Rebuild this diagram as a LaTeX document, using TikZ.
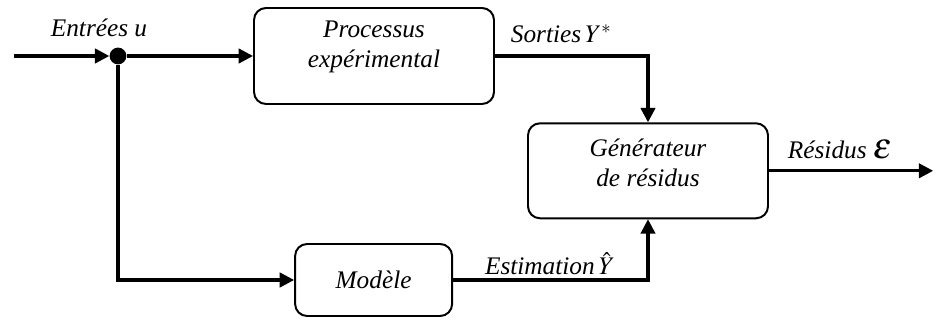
\documentclass[tikz,border=0pt]{standalone}
\usepackage{mathptmx}
\usepackage{fontspec}
\setmainfont{Liberation Serif}
\usetikzlibrary{arrows.meta}

\tikzset{
  bloc/.style={draw,line width=1.4pt,rounded corners=0.3cm},
  fleche/.style={line width=2.2pt,-{Triangle[length=0.36cm,width=0.36cm]}},
  etiq/.style={inner sep=1pt}
}

\begin{document}
\begin{tikzpicture}[font=\fontsize{18}{21.6}\selectfont\itshape]
              \useasboundingbox (0,0) rectangle (23.525,8);
              % les trois blocs
              \node[bloc,minimum width=6cm,minimum height=2.4cm,
                label={[align=center,yshift=6.5pt]center:Processus\\expérimental}](proc)at(9.35,6.6){};
              \node[bloc,minimum width=6cm,minimum height=2.375cm,
                label={[align=center,yshift=5.5pt]center:Générateur\\de résidus}](gen)at(16.2,3.73){};
              \node[bloc,minimum width=3.925cm,minimum height=1.8cm](mod)at(9.34,1.0){Modèle};
              % noeud de branchement
              \node[circle,fill,inner sep=0pt,minimum size=0.42cm](dot)at(2.95,6.6){};
              \coordinate(in)at(0.35,6.6);
              \coordinate(out)at(23.33,3.73);
              % liaisons
              \draw[fleche](in)--(dot);
              \draw[fleche](dot)--(proc);
              \draw[fleche](dot)|-(mod);
              \draw[fleche](proc.east)-|(gen.north);
              \draw[fleche](mod.east)-|(gen.south);
              \draw[fleche](gen.east)--(out);
              % etiquettes
              \node[etiq](lu)at(2.475,7.3){Entrées u};
              \node[etiq](ly)at(14.03,7.15){Sorties\,$Y^{*}$};
              \node[etiq](le)at(21.0,4.25){Résidus~{\fontsize{26}{30}\selectfont$\epsilon$}};
              \node[etiq](lh)at(13.75,1.4){Estimation\,$\hat{Y}$};
            \end{tikzpicture}
\end{document}
